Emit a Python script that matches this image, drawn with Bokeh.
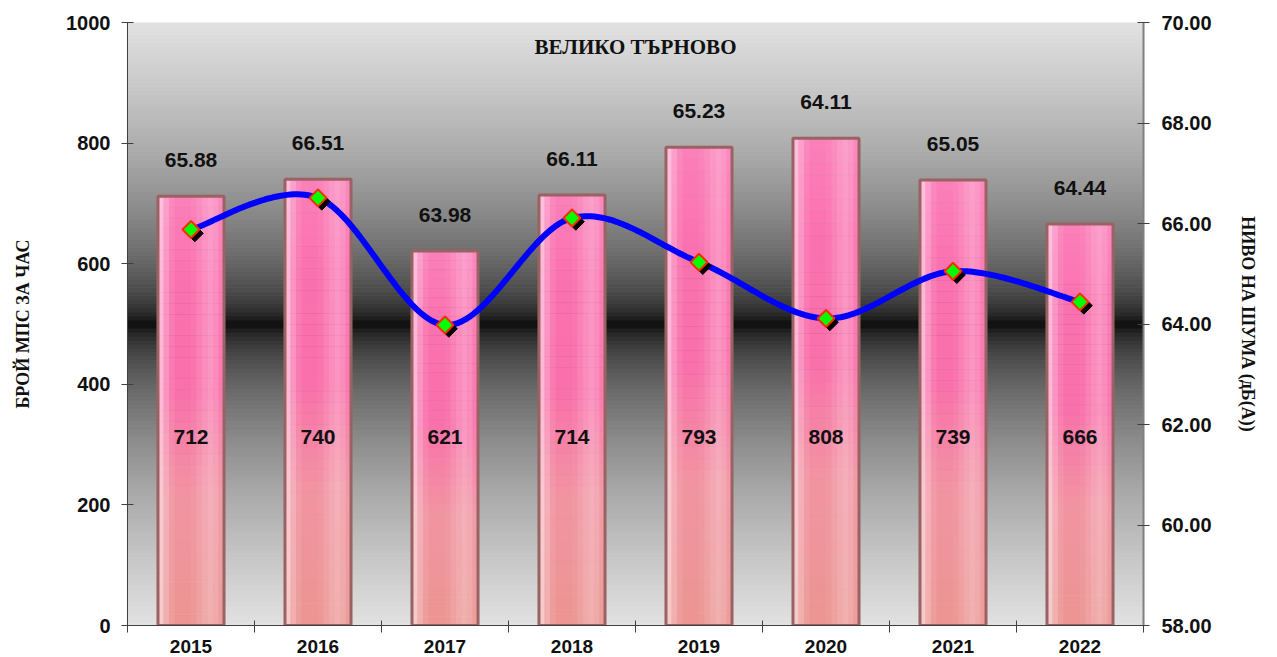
import numpy as np
from bokeh.plotting import figure
from bokeh.models import Range1d, LinearAxis, FixedTicker, PrintfTickFormatter, Label
from bokeh.embed import file_html
from bokeh.resources import INLINE
from bokeh.core.properties import value

# ---- data ----
years = ["2015", "2016", "2017", "2018", "2019", "2020", "2021", "2022"]
vehicles = [712, 740, 621, 714, 793, 808, 739, 666]
noise = [65.88, 66.51, 63.98, 66.11, 65.23, 64.11, 65.05, 64.44]
left_ticks = [0, 200, 400, 600, 800, 1000]
right_ticks = [58, 60, 62, 64, 66, 68, 70]
title_text = "ВЕЛИКО ТЪРНОВО"
left_label = "БРОЙ МПС ЗА ЧАС"
right_label = "НИВО НА ШУМА (дБ(А))"

idx = np.arange(len(years))
SANS = "Liberation Sans"
SERIF = "Liberation Serif"

p = figure(width=1275, height=655,
           x_range=Range1d(-0.5, len(years) - 0.5),
           y_range=Range1d(left_ticks[0], left_ticks[-1]),
           output_backend="svg", toolbar_location=None,
           min_border_left=127, min_border_right=132,
           min_border_top=22, min_border_bottom=28)
p.extra_y_ranges = {"db": Range1d(right_ticks[0], right_ticks[-1])}
p.outline_line_color = None
p.xgrid.visible = False
p.ygrid.visible = False
p.background_fill_color = "white"
p.border_fill_color = "white"

# ---- background gradient (light grey -> black at middle -> light grey) ----
ylo, yhi = left_ticks[0], left_ticks[-1]
nb = 150
edges = np.linspace(ylo, yhi, nb + 1)
mids = (edges[:-1] + edges[1:]) / 2
mid = (ylo + yhi) / 2
d = np.abs(mids - mid) / (yhi - mid)
g = (226 * np.sqrt(d)).astype(int)
bg_cols = ["#%02x%02x%02x" % (v, v, v) for v in g]
p.quad(left=-0.5, right=len(years) - 0.5, bottom=edges[:-1], top=edges[1:],
       fill_color=bg_cols, line_color=bg_cols, line_width=1)

# ---- bars with vertical gradient ----
bw = 0.52
stops_f = [0.0, 0.3, 0.55, 0.8, 1.0]
stops_c = [(236, 150, 146), (242, 148, 162), (250, 112, 172), (251, 114, 176), (252, 128, 186)]


def col_at(f):
    for k in range(len(stops_f) - 1):
        if stops_f[k] <= f <= stops_f[k + 1]:
            t = (f - stops_f[k]) / (stops_f[k + 1] - stops_f[k])
            c = [int(stops_c[k][j] + t * (stops_c[k + 1][j] - stops_c[k][j])) for j in range(3)]
            return "#%02x%02x%02x" % tuple(c)
    return "#%02x%02x%02x" % stops_c[-1]


m = 40
sx, sb, st, sc = [], [], [], []
for i, v in zip(idx, vehicles):
    for k in range(m):
        sx.append(i)
        sb.append(v * k / m)
        st.append(v * (k + 1) / m)
        sc.append(col_at((k + 0.5) / m))
p.vbar(x=sx, bottom=sb, top=st, width=bw, fill_color=sc, line_color=sc, line_width=0.5)

# horizontal sheen stripes
prof = [0.5, 0.25, 0.08, 0.0, 0.0, 0.0, 0.04, 0.12, 0.2, 0.26, 0.2, 0.08]
ns = len(prof)
sw = bw / ns
for k, a in enumerate(prof):
    if a <= 0:
        continue
    off = -bw / 2 + sw * (k + 0.5)
    p.vbar(x=idx + off, bottom=0, top=vehicles, width=sw, fill_color="white",
           fill_alpha=a, line_color=None)

# outline
p.vbar(x=idx, top=vehicles, width=bw, fill_color=None, line_color="#9a6262", line_width=3)

# ---- smooth noise line (right axis) ----
def smooth(xs, ys, steps=40):
    pts = list(zip(xs, ys))
    n = len(pts)
    ox, oy = [], []
    for i in range(n - 1):
        p0 = pts[i - 1] if i > 0 else pts[i]
        p1 = pts[i]
        p2 = pts[i + 1]
        p3 = pts[i + 2] if i + 2 < n else pts[i + 1]
        c1 = (p1[0] + (p2[0] - p0[0]) / 6, p1[1] + (p2[1] - p0[1]) / 6)
        c2 = (p2[0] - (p3[0] - p1[0]) / 6, p2[1] - (p3[1] - p1[1]) / 6)
        for t in np.linspace(0, 1, steps, endpoint=(i == n - 2)):
            a = (1 - t) ** 3
            b = 3 * (1 - t) ** 2 * t
            c = 3 * (1 - t) * t ** 2
            dd = t ** 3
            ox.append(a * p1[0] + b * c1[0] + c * c2[0] + dd * p2[0])
            oy.append(a * p1[1] + b * c1[1] + c * c2[1] + dd * p2[1])
    return ox, oy


lx, ly = smooth(list(idx), noise)
p.line(lx, ly, y_range_name="db", line_color="#0000ff", line_width=6)

# markers (rotated squares) with shadow
p.scatter(idx + 0.03, np.array(noise) - 0.075, y_range_name="db", marker="square",
          angle=np.pi / 4, size=12, fill_color="black", line_color="black")
p.scatter(idx, noise, y_range_name="db", marker="square", angle=np.pi / 4, size=12,
          fill_color="#00ff00", line_color="#ff2a00", line_width=2)

# ---- value labels ----
p.text(x=idx, y=vehicles, text=["%.2f" % v for v in noise], y_offset=-36,
       text_align="center", text_baseline="middle", text_font=value(SANS),
       text_font_style="bold", text_font_size="21px", text_color="#111111")
p.text(x=idx, y=[312] * len(idx), text=[str(v) for v in vehicles],
       text_align="center", text_baseline="middle", text_font=value(SANS),
       text_font_style="bold", text_font_size="21px", text_color="#111111")

# title inside plot
p.add_layout(Label(x=(len(years) - 1) / 2, y=960, text=title_text, text_align="center",
                   text_baseline="middle", text_font=SERIF, text_font_style="bold",
                   text_font_size="21px", text_color="#111111"))

# ---- axes ----
xa = p.xaxis[0]
xa.ticker = FixedTicker(ticks=list(idx), minor_ticks=[i - 0.5 for i in range(len(years) + 1)])
xa.major_label_overrides = {int(i): y for i, y in zip(idx, years)}
xa.major_tick_in = 0
xa.major_tick_out = 0
xa.minor_tick_in = 5
xa.minor_tick_out = 7
xa.minor_tick_line_color = "#404040"
xa.axis_line_color = "#404040"
xa.major_label_standoff = 7
xa.major_label_text_font = SANS
xa.major_label_text_font_style = "bold"
xa.major_label_text_font_size = "19px"
xa.major_label_text_color = "#111111"

ya = p.yaxis[0]
ya.ticker = FixedTicker(ticks=left_ticks)
ya.major_tick_in = 6
ya.major_tick_out = 6
ya.minor_tick_line_color = None
ya.axis_line_color = "#404040"
ya.major_tick_line_color = "#404040"
ya.major_label_standoff = 11
ya.major_label_text_font = SANS
ya.major_label_text_font_style = "bold"
ya.major_label_text_font_size = "20px"
ya.major_label_text_color = "#111111"
ya.axis_label = left_label
ya.axis_label_text_font = SERIF
ya.axis_label_text_font_style = "bold"
ya.axis_label_text_font_size = "18px"
ya.axis_label_text_color = "#111111"
ya.axis_label_standoff = 30

ra = LinearAxis(y_range_name="db", ticker=FixedTicker(ticks=right_ticks),
                formatter=PrintfTickFormatter(format="%.2f"))
ra.major_tick_in = 6
ra.major_tick_out = 6
ra.minor_tick_line_color = None
ra.axis_line_color = "#808080"
ra.axis_line_width = 2
ra.major_tick_line_color = "#404040"
ra.major_label_standoff = 12
ra.major_label_text_font = SANS
ra.major_label_text_font_style = "bold"
ra.major_label_text_font_size = "20px"
ra.major_label_text_color = "#111111"
ra.axis_label = right_label
ra.axis_label_text_font = SERIF
ra.axis_label_text_font_style = "bold"
ra.axis_label_text_font_size = "18px"
ra.axis_label_text_color = "#111111"
ra.axis_label_standoff = 23
p.add_layout(ra, "right")

open("out.html", "w").write(file_html(p, INLINE))
